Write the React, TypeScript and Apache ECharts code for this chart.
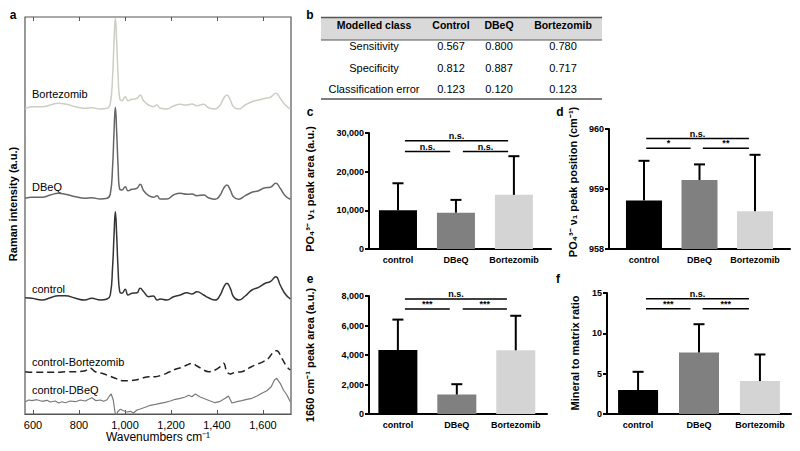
import React, { useEffect, useRef } from "react";
import * as echarts from "echarts";

// ---------- Panel a: Raman spectra (offset, arbitrary units) ----------
const wavenumbers = [566, 595, 640, 675, 710, 740, 785, 825, 855, 893, 922, 936, 946, 952, 958, 964, 970, 977, 987, 1001, 1013, 1030, 1052, 1066, 1081, 1103, 1124, 1139, 1153, 1182, 1211, 1240, 1269, 1291, 1313, 1342, 1363, 1392, 1414, 1429, 1443, 1458, 1472, 1494, 1523, 1552, 1581, 1610, 1632, 1656, 1675, 1697, 1719];
const bortezomibSpectrum = [305.7, 307.3, 307.3, 309, 310.7, 310, 307.3, 305.7, 306.3, 305, 305.7, 310.7, 337.3, 370.7, 395.7, 370.7, 337.3, 315.7, 313.3, 317.3, 313.3, 314.7, 315.7, 319, 313.3, 309, 307.3, 309, 305.7, 305, 308, 309.7, 309, 310, 308.3, 309.7, 306.3, 305, 309, 315.7, 319, 314, 307.3, 305, 309, 312.3, 314, 315.7, 316.7, 320.7, 315.7, 309, 305];
const dbeqSpectrum = [215.7, 216.7, 216.7, 219, 220.7, 219.7, 217.3, 215.7, 216.3, 215, 215.7, 220, 247.3, 280.7, 306.7, 280.7, 247.3, 224.7, 224, 227.3, 223.3, 224.7, 225.7, 229.7, 223.3, 218.3, 216.7, 218.3, 215, 215, 219, 220.7, 219.7, 220, 218.3, 219, 216.3, 214.7, 219, 225.7, 229, 224, 217.3, 214.7, 218.3, 221.7, 223.3, 226.3, 226.7, 230.7, 225.7, 218.3, 214.7];
const controlSpectrum = [116.3, 115.7, 114, 116.3, 118.3, 118.3, 115.7, 114, 115.7, 114, 115, 119, 147.3, 177.3, 202.3, 177.3, 144, 122.3, 120.7, 124.7, 119, 120.7, 121.3, 125.7, 122.3, 117.3, 118, 114, 115, 114, 117.3, 119, 121.3, 120, 122.3, 119, 116.3, 114, 119, 126.7, 130.7, 125.7, 117.3, 114, 118, 124, 126.7, 130.7, 132.3, 137.3, 129, 120, 115];

const diffBortWavenumbers = [566, 595, 639, 675, 711, 740, 784, 827, 849, 871, 900, 929, 958, 987, 1016, 1045, 1074, 1103, 1132, 1161, 1190, 1219, 1248, 1269, 1291, 1313, 1342, 1363, 1392, 1414, 1429, 1443, 1458, 1479, 1508, 1537, 1566, 1595, 1624, 1646, 1660, 1682, 1704, 1719];
const diffBortSpectrum = [42.3, 41.7, 41.7, 41.7, 41.7, 42.3, 42.3, 43.3, 45.7, 42.3, 40.7, 38.3, 35.7, 33.3, 33.3, 34, 35.7, 37.3, 37.3, 39, 41.7, 44.7, 46.7, 49, 50.7, 48, 44, 42.3, 44, 47.3, 50.7, 42.3, 40, 41.7, 42.3, 45.7, 49, 51.7, 55.7, 62.3, 63.3, 55.7, 47.3, 44];

const diffDbeqWavenumbers = [566, 581, 595, 617, 639, 661, 675, 697, 711, 726, 740, 762, 784, 806, 827, 842, 856, 874, 893, 907, 922, 932, 940, 949, 955, 961, 968, 980, 994, 1008, 1023, 1037, 1052, 1066, 1088, 1110, 1132, 1153, 1175, 1197, 1219, 1240, 1262, 1277, 1291, 1306, 1327, 1349, 1371, 1392, 1414, 1436, 1450, 1465, 1487, 1508, 1530, 1552, 1574, 1595, 1617, 1636, 1650, 1660, 1675, 1689, 1704, 1719];
const diffDbeqSpectrum = [12.3, 14, 13.3, 14.3, 12.7, 13.7, 12, 13, 11, 12.3, 11.3, 13, 12.3, 14, 13, 14.7, 16.3, 13.3, 14, 12.7, 14.3, 18, 20, 14, 4, -3.3, 2.3, 4.7, 3.3, 2, 2.7, 1, 4, 5, 6.7, 8.7, 9.7, 10.7, 11.7, 13, 14.7, 15.7, 17, 18.7, 17.3, 20, 17, 15, 13, 11.3, 12.7, 15.7, 18, 11, 12.3, 13.3, 14.7, 15.7, 18, 20.7, 23.3, 27.3, 34, 35.7, 30.7, 24, 19, 12.3];

const spectrumTicks = [600, 800, 1000, 1200, 1400, 1600];
const spectrumNames = ["Bortezomib", "DBeQ", "control", "control-Bortezomib", "control-DBeQ"];

// ---------- Panel b: table ----------
const tableHeader = ["Modelled class", "Control", "DBeQ", "Bortezomib"];
const tableRowNames = ["Sensitivity", "Specificity", "Classification error"];
const tableControl = ["0.567", "0.812", "0.123"];
const tableDbeq = ["0.800", "0.887", "0.120"];
const tableBortezomib = ["0.780", "0.717", "0.123"];

// ---------- Panels c-f: bar charts ----------
const groups = ["control", "DBeQ", "Bortezomib"];
const groupColors = ["#000000", "#808080", "#d4d4d4"];

const peakAreaMean = [10000, 9400, 14000];
const peakAreaSd = [7000, 3300, 10000];
const peakAreaSpans = [[0.12, 1.9, 28000], [0.12, 0.9, 25200], [1.12, 1.9, 25200]];
const peakAreaMarks = ["n.s.", "n.s.", "n.s."];

const peakPosMean = [958.81, 959.15, 958.63];
const peakPosSd = [0.66, 0.26, 0.94];
const peakPosSpans = [[0.04, 1.89, 959.84], [0.04, 0.84, 959.68], [1.06, 1.89, 959.68]];
const peakPosMarks = ["n.s.", "*", "**"];

const amideMean = [4340, 1320, 4320];
const amideSd = [2060, 700, 2340];
const amideSpans = [[0.12, 1.85, 7800], [0.12, 0.88, 7120], [1.1, 1.85, 7120]];
const amideMarks = ["n.s.", "***", "***"];

const ratioMean = [2.97, 7.62, 4.08];
const ratioSd = [2.26, 3.51, 3.3];
const ratioSpans = [[0.13, 1.82, 14.3], [0.13, 0.86, 13.06], [1.06, 1.82, 13.06]];
const ratioMarks = ["n.s.", "***", "***"];

const FONT = '"Liberation Sans", Arial, Helvetica, sans-serif';

export default function App() {
  const ref = useRef<HTMLDivElement>(null);

  useEffect(() => {
    if (!ref.current) return;
    const chart = echarts.init(ref.current, null, { renderer: "svg" });

    const fmt = (v: number) => Number(v).toLocaleString("en-US");

    const barPanels = [
      { grid: { left: 369, top: 133, width: 182, height: 116 }, xMin: -0.5, xMax: 2.64, yMin: 0, yMax: 30000, yStep: 10000, barWidth: 38, mean: peakAreaMean, sd: peakAreaSd, spans: peakAreaSpans, marks: peakAreaMarks },
      { grid: { left: 609, top: 129, width: 181, height: 120 }, xMin: -0.63, xMax: 2.63, yMin: 958, yMax: 960, yStep: 1, barWidth: 36, mean: peakPosMean, sd: peakPosSd, spans: peakPosSpans, marks: peakPosMarks },
      { grid: { left: 369, top: 296, width: 178, height: 118 }, xMin: -0.49, xMax: 2.53, yMin: 0, yMax: 8000, yStep: 2000, barWidth: 39, mean: amideMean, sd: amideSd, spans: amideSpans, marks: amideMarks },
      { grid: { left: 607, top: 293, width: 184, height: 121 }, xMin: -0.51, xMax: 2.51, yMin: 0, yMax: 15, yStep: 5, barWidth: 40, mean: ratioMean, sd: ratioSd, spans: ratioSpans, marks: ratioMarks },
    ];

    const grids: any[] = [
      { left: 25, top: 17, width: 266, height: 397, show: true, borderColor: "#555", borderWidth: 1.2, backgroundColor: "transparent", outerBoundsMode: "none" },
    ];
    const xAxes: any[] = [
      {
        type: "value", gridIndex: 0, min: 565, max: 1722, position: "bottom",
        axisLine: { show: true, onZero: false, lineStyle: { color: "#555", width: 1.2 } },
        axisTick: { show: true, inside: true, length: 4, customValues: spectrumTicks, lineStyle: { color: "#555" } },
        axisLabel: { show: true, customValues: spectrumTicks, formatter: fmt, color: "#000", fontSize: 11, fontFamily: FONT, margin: 5 },
        splitLine: { show: false },
      },
      {
        type: "value", gridIndex: 0, min: 565, max: 1722, position: "top",
        axisLine: { show: false, onZero: false },
        axisTick: { show: true, inside: true, length: 4, customValues: spectrumTicks, lineStyle: { color: "#555" } },
        axisLabel: { show: false },
        splitLine: { show: false },
      },
    ];
    const yAxes: any[] = [
      { type: "value", gridIndex: 0, min: 0, max: 397, show: false, splitLine: { show: false } },
    ];

    const series: any[] = [];
    const spectra = [
      { x: wavenumbers, y: bortezomibSpectrum, color: "#cdcdc6", width: 1.5, dash: "solid", smooth: 0.5 },
      { x: wavenumbers, y: dbeqSpectrum, color: "#666666", width: 1.5, dash: "solid", smooth: 0.5 },
      { x: wavenumbers, y: controlSpectrum, color: "#333333", width: 1.5, dash: "solid", smooth: 0.5 },
      { x: diffBortWavenumbers, y: diffBortSpectrum, color: "#222222", width: 1.5, dash: [7, 4], smooth: 0.4 },
      { x: diffDbeqWavenumbers, y: diffDbeqSpectrum, color: "#7a7a7a", width: 1.2, dash: "solid", smooth: false },
    ];
    spectra.forEach((s, i) => {
      series.push({
        type: "line", name: spectrumNames[i], xAxisIndex: 0, yAxisIndex: 0,
        data: s.x.map((w, k) => [w, s.y[k]]),
        showSymbol: false, symbol: "none", smooth: s.smooth, clip: true,
        lineStyle: { color: s.color, width: s.width, type: s.dash },
        silent: true,
      });
    });

    barPanels.forEach((p, k) => {
      const gi = k + 1;
      const xi = k + 2;
      const yi = k + 1;
      grids.push({ ...p.grid, outerBoundsMode: "none" });
      xAxes.push({
        type: "value", gridIndex: gi, min: p.xMin, max: p.xMax,
        axisLine: { show: true, onZero: false, lineStyle: { color: "#000", width: 2 } },
        axisTick: { show: false },
        axisLabel: {
          show: true, customValues: [0, 1, 2], formatter: (v: number) => groups[Math.round(v)] ?? "",
          color: "#000", fontSize: 9, fontWeight: "bold", fontFamily: FONT, margin: 6,
        },
        splitLine: { show: false },
      });
      yAxes.push({
        type: "value", gridIndex: gi, min: p.yMin, max: p.yMax, interval: p.yStep,
        axisLine: { show: true, onZero: false, lineStyle: { color: "#000", width: 2 } },
        axisTick: { show: true, inside: false, length: 4, lineStyle: { color: "#000", width: 2 } },
        axisLabel: { show: true, formatter: fmt, color: "#000", fontSize: 9, fontWeight: "bold", fontFamily: FONT, margin: 5 },
        splitLine: { show: false },
      });
      series.push({
        type: "bar", xAxisIndex: xi, yAxisIndex: yi, barWidth: p.barWidth, clip: true, silent: true,
        data: p.mean.map((m, i) => ({ value: [i, m], itemStyle: { color: groupColors[i] } })),
        z: 2,
      });
      series.push({
        type: "custom", xAxisIndex: xi, yAxisIndex: yi, silent: true, z: 3,
        data: p.mean.map((m, i) => [i, m, p.sd[i]]),
        encode: { x: 0, y: 1 },
        renderItem: (params: any, api: any) => {
          const x = api.value(0), m = api.value(1), e = api.value(2);
          const p0 = api.coord([x, m]);
          const p1 = api.coord([x, m + e]);
          return {
            type: "group",
            children: [
              { type: "line", shape: { x1: p0[0], y1: p0[1], x2: p1[0], y2: p1[1] }, style: { stroke: "#000", lineWidth: 2 } },
              { type: "line", shape: { x1: p1[0] - 5.5, y1: p1[1], x2: p1[0] + 5.5, y2: p1[1] }, style: { stroke: "#000", lineWidth: 2 } },
            ],
          };
        },
      });
      series.push({
        type: "custom", xAxisIndex: xi, yAxisIndex: yi, silent: true, z: 4,
        data: p.spans.map((s) => [s[0], s[1], s[2]]),
        encode: { x: [0, 1], y: 2 },
        renderItem: (params: any, api: any) => {
          const a = api.coord([api.value(0), api.value(2)]);
          const b = api.coord([api.value(1), api.value(2)]);
          return {
            type: "group",
            children: [
              { type: "line", shape: { x1: a[0], y1: a[1], x2: b[0], y2: b[1] }, style: { stroke: "#000", lineWidth: 1.5 } },
              {
                type: "text", x: (a[0] + b[0]) / 2, y: a[1] - 0.5,
                style: { text: p.marks[params.dataIndex], textAlign: "center", textVerticalAlign: "bottom", fill: "#000", font: `bold 9px ${FONT}` },
              },
            ],
          };
        },
      });
    });

    const txt = (text: string, x: number, y: number, size: number, bold: boolean, align = "left", rotate = 0) => ({
      type: "text", x, y, rotation: rotate, silent: true,
      style: { text, fill: "#000", font: `${bold ? "bold " : ""}${size}px ${FONT}`, textAlign: align, textVerticalAlign: "middle" },
    });

    const graphics: any[] = [];
    // panel letters
    graphics.push(txt("a", 13, 15, 12, true, "center"));
    graphics.push(txt("b", 310, 15, 12, true, "center"));
    graphics.push(txt("c", 310, 112, 12, true, "center"));
    graphics.push(txt("d", 560, 112, 12, true, "center"));
    graphics.push(txt("e", 310, 279, 12, true, "center"));
    graphics.push(txt("f", 558, 279, 12, true, "center"));

    // panel a labels
    const specLabelY = [94, 187, 289, 362, 390];
    spectrumNames.forEach((n, i) => graphics.push(txt(n, 32, specLabelY[i], 11, false, "left")));
    graphics.push(txt("Raman intensity (a.u.)", 13, 204, 11, true, "center", Math.PI / 2));
    graphics.push(txt("Wavenumbers cm⁻¹", 158, 437, 12, false, "center"));

    // table b
    graphics.push({ type: "rect", silent: true, shape: { x: 321, y: 18, width: 281, height: 22 }, style: { fill: "#d9d9d9" } });
    graphics.push({ type: "line", silent: true, shape: { x1: 321, y1: 17.5, x2: 602, y2: 17.5 }, style: { stroke: "#555", lineWidth: 1.5 } });
    graphics.push({ type: "line", silent: true, shape: { x1: 321, y1: 40, x2: 602, y2: 40 }, style: { stroke: "#555", lineWidth: 1 } });
    graphics.push({ type: "line", silent: true, shape: { x1: 321, y1: 99, x2: 602, y2: 99 }, style: { stroke: "#555", lineWidth: 1.5 } });
    const colX = [374, 451, 499, 563];
    tableHeader.forEach((h, i) => graphics.push(txt(h, colX[i], 24.5, 10.5, true, "center")));
    const rowY = [46, 68, 89];
    tableRowNames.forEach((r, i) => {
      graphics.push(txt(r, colX[0], rowY[i], 11, false, "center"));
      graphics.push(txt(tableControl[i], colX[1], rowY[i], 11, false, "center"));
      graphics.push(txt(tableDbeq[i], colX[2], rowY[i], 11, false, "center"));
      graphics.push(txt(tableBortezomib[i], colX[3], rowY[i], 11, false, "center"));
    });

    // bar panel axis names
    graphics.push(txt("PO₄³⁻ ν₁ peak area (a.u.)", 310, 189, 11, true, "center", Math.PI / 2));
    graphics.push(txt("PO₄³⁻ ν₁ peak position (cm⁻¹)", 573, 182, 11, true, "center", Math.PI / 2));
    graphics.push(txt("1660 cm⁻¹ peak area (a.u.)", 310, 355, 11, true, "center", Math.PI / 2));
    graphics.push(txt("Mineral to matrix ratio", 575, 353, 11, true, "center", Math.PI / 2));

    chart.setOption({
      animation: false,
      backgroundColor: "#ffffff",
      textStyle: { fontFamily: FONT },
      grid: grids,
      xAxis: xAxes,
      yAxis: yAxes,
      series,
      graphic: { elements: graphics },
    });

    return () => chart.dispose();
  }, []);

  return <div ref={ref} style={{ position: "fixed", left: 0, top: 0, width: 800, height: 451, background: "#fff" }} />;
}
